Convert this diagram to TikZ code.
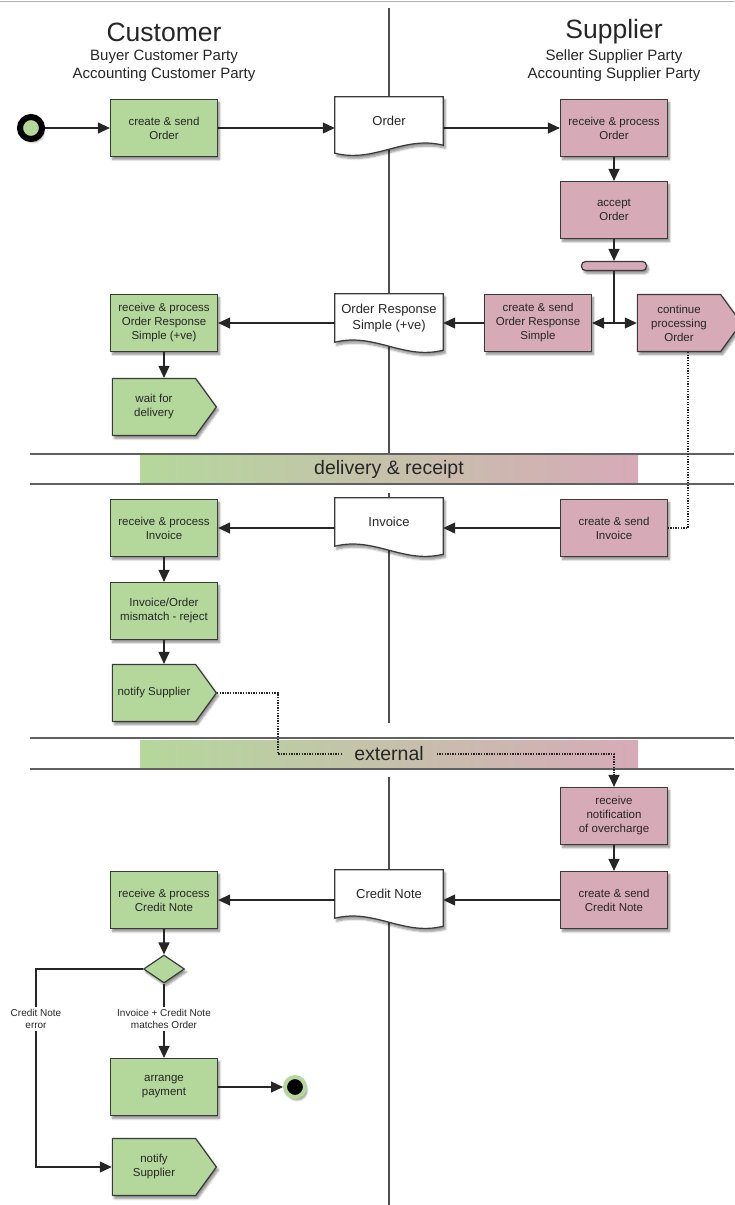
\documentclass[tikz,border=0pt]{standalone}
\usepackage{fontspec}
\setmainfont{Liberation Sans}
\usepackage{xcolor}
\usetikzlibrary{positioning,shapes.geometric,shapes.symbols,arrows.meta,backgrounds,shadows.blur}

\definecolor{custgreen}{HTML}{B4D89C}
\definecolor{supppink}{HTML}{D7AAB8}
\definecolor{edgegray}{HTML}{3A3A3A}
\definecolor{inkgray}{HTML}{262626}

\begin{document}
\begin{tikzpicture}[
			x=1pt, y=-1pt,
			every node/.style={align=center, text=inkgray},
			boxshadow/.style={blur shadow={shadow xshift=2pt, shadow yshift=-3pt, shadow blur steps=6, shadow opacity=45}},
			task/.style={rectangle, draw=edgegray, line width=1.2pt, minimum width=107pt, minimum height=57pt,
				inner sep=2pt, font=\fontsize{11.5}{14}\selectfont, boxshadow},
			cust/.style={task, fill=custgreen},
			supp/.style={task, fill=supppink},
			custsig/.style={cust, shape=signal, signal to=east, signal pointer angle=108, minimum width=104pt},
			suppsig/.style={supp, shape=signal, signal to=east, signal pointer angle=108, minimum width=104pt},
			doc/.style={rectangle, minimum width=108pt, minimum height=48pt, inner sep=0pt, font=\fontsize{13}{16}\selectfont},
			docline/.style={draw=edgegray, line width=1.2pt, fill=white, boxshadow},
			forkbar/.style={rectangle, rounded corners=4pt, minimum width=65pt, minimum height=9pt, inner sep=0pt,
				draw=edgegray, line width=1.2pt, fill=supppink, boxshadow},
			decide/.style={diamond, minimum width=41pt, minimum height=28pt, inner sep=0pt,
				draw=edgegray, line width=1.2pt, fill=custgreen, boxshadow},
			startev/.style={circle, minimum size=22pt, inner sep=0pt, draw=black, line width=6pt, fill=custgreen, boxshadow},
			endev/.style={circle, minimum size=20pt, inner sep=0pt, draw=custgreen, line width=4pt, fill=black, boxshadow},
			lanehead/.style={font=\fontsize{26.5}{30}\selectfont},
			lanesub/.style={font=\fontsize{15}{18}\selectfont},
			bandbar/.style={rectangle, minimum width=498pt, minimum height=28pt, inner sep=0pt, left color=custgreen, right color=supppink},
			bandtxt/.style={font=\fontsize{19.5}{23}\selectfont, inner sep=13pt},
			bandline/.style={draw=edgegray!80, line width=1.4pt},
			lane/.style={draw=edgegray!90, line width=1.2pt},
			lbl/.style={font=\fontsize{10}{12}\selectfont, inner sep=2pt},
			plain/.style={draw=inkgray, line width=1.2pt},
			flow/.style={plain, -{Triangle[length=12pt,width=11pt]}},
			msgdots/.style={draw=inkgray, line width=1.3pt, dash pattern=on 1.3pt off 1.3pt},
			]
			
			\useasboundingbox (0,0) rectangle (734,1205);
			\draw[draw=gray!60, line width=1pt] (0,1) -- (734,1);
			
			% lanes
			\node[lanehead] (custhd) at (164,32) {Customer};
			\node[lanesub] (custsub) at (164,66) {Buyer Customer Party\\Accounting Customer Party};
			\node[lanehead] (supphd) at (614,32) {Supplier};
			\node[lanesub] (suppsub) at (614,66) {Seller Supplier Party\\Accounting Supplier Party};
			
			% bands
			\node[bandbar] (bar1) at (389,469) {};
			\node[bandtxt] (dlv) at (bar1) {delivery \& receipt};
			\node[bandbar] (bar2) at (389,754) {};
			\node[bandtxt] (ext) at (bar2) {external};
			\draw[bandline] (30,454) -- (734,454);
			\draw[bandline] (30,484) -- (734,484);
			\draw[bandline] (30,738) -- (734,738);
			\draw[bandline] (30,769) -- (734,769);
			
			% order
			\node[startev] (start) at (31,128) {};
			\node[cust] (cso) at (164,128) {create \& send\\Order};
			\node[doc] (ord) at (389,121) {Order};
			\node[supp] (rpo) at (614,128) {receive \& process\\Order};
			\node[supp] (acc) at (614,210) {accept\\Order};
			\node[forkbar] (fork) at (614,266) {};
			\node[supp] (csr) at (538,323) {create \& send\\Order Response\\Simple};
			\node[suppsig] (cpo) at (679,323) {continue\\processing\\Order};
			\node[doc] (ors) at (389,318) {Order Response\\Simple (+ve)};
			\node[cust] (rpr) at (164,323) {receive \& process\\Order Response\\Simple (+ve)};
			\node[custsig] (wfd) at (154,407) {wait for\\delivery};
			
			% invoice
			\node[cust] (rpi) at (164,528) {receive \& process\\Invoice};
			\node[doc] (inv) at (389,522) {Invoice};
			\node[supp] (csi) at (614,528) {create \& send\\Invoice};
			\node[cust] (mis) at (164,611) {Invoice/Order\\mismatch - reject};
			\node[custsig] (nfs) at (154,693) {notify Supplier};
			
			% credit note
			\node[supp] (rno) at (614,816) {receive\\notification\\of overcharge};
			\node[supp] (csc) at (614,900) {create \& send\\Credit Note};
			\node[doc] (crn) at (389,894) {Credit Note};
			\node[cust] (rpc) at (164,900) {receive \& process\\Credit Note};
			\node[decide] (dia) at (164,969) {};
			\node[lbl] (lerr) at (36,1019) {Credit Note\\error};
			\node[lbl] (lok) at (164,1019) {Invoice + Credit Note\\matches Order};
			\node[cust] (arr) at (164,1087) {arrange\\payment};
			\node[endev] (endc) at (295,1087) {};
			\node[custsig] (nfs2) at (154,1167) {notify\\Supplier};
			
			\begin{scope}[on background layer]
				\draw[lane] (389,8) -- (389,454);
				\draw[lane] (389,493) -- (389,723);
				\draw[lane] (389,777) -- (389,1205);
				\path[docline] (ord.north west) -- (ord.north east) -- (ord.south east)
					.. controls ([xshift=-40pt,yshift=10pt]ord.south east) and ([xshift=40pt,yshift=-18pt]ord.south west) .. ([yshift=-8pt]ord.south west) -- cycle;
				\foreach \d in {ors,inv,crn}
					\path[docline] (\d.north west) -- (\d.north east) -- ([yshift=-8pt]\d.south east)
						.. controls ([xshift=-40pt,yshift=-18pt]\d.south east) and ([xshift=40pt,yshift=10pt]\d.south west) .. (\d.south west) -- cycle;
			\end{scope}
			
			\draw[flow] (start) -- (cso);
			\draw[flow] (cso) -- (cso -| ord.west);
			\draw[flow] (ord.east |- rpo) -- (rpo);
			\draw[flow] (rpo) -- (acc);
			\draw[flow] (acc) -- (fork);
			\coordinate (split) at (fork |- csr);
			\draw[plain] (fork.south) -- (split);
			\draw[flow] (split) -- (csr.east);
			\draw[flow] (split) -- (cpo.west |- split);
			\draw[flow] (csr) -- (csr -| ors.east);
			\draw[flow] (ors.west |- rpr) -- (rpr);
			\draw[flow] (rpr) -- (rpr |- wfd.north);
			\draw[msgdots] ([xshift=9pt]cpo.south) |- (csi.east);
			
			\draw[flow] (csi) -- (csi -| inv.east);
			\draw[flow] (inv.west |- rpi) -- (rpi);
			\draw[flow] (rpi) -- (mis);
			\draw[flow] (mis) -- (mis |- nfs.north);
			\draw[msgdots] (nfs.east) -- ++(61,0) |- (ext.west);
			\draw[msgdots, -{Triangle[length=12pt,width=11pt]}] (ext.east) -| (rno.north);
			
			\draw[flow] (rno) -- (csc);
			\draw[flow] (csc) -- (csc -| crn.east);
			\draw[flow] (crn.west |- rpc) -- (rpc);
			\draw[flow] (rpc) -- (dia);
			\draw[plain] (dia.west) -| (lerr.north);
			\draw[flow] (lerr.south) |- (nfs2.west);
			\draw[plain] (dia.south) -- (lok.north);
			\draw[flow] (lok.south) -- (arr.north);
			\draw[flow] (arr) -- (endc);
			
		\end{tikzpicture}
\end{document}
